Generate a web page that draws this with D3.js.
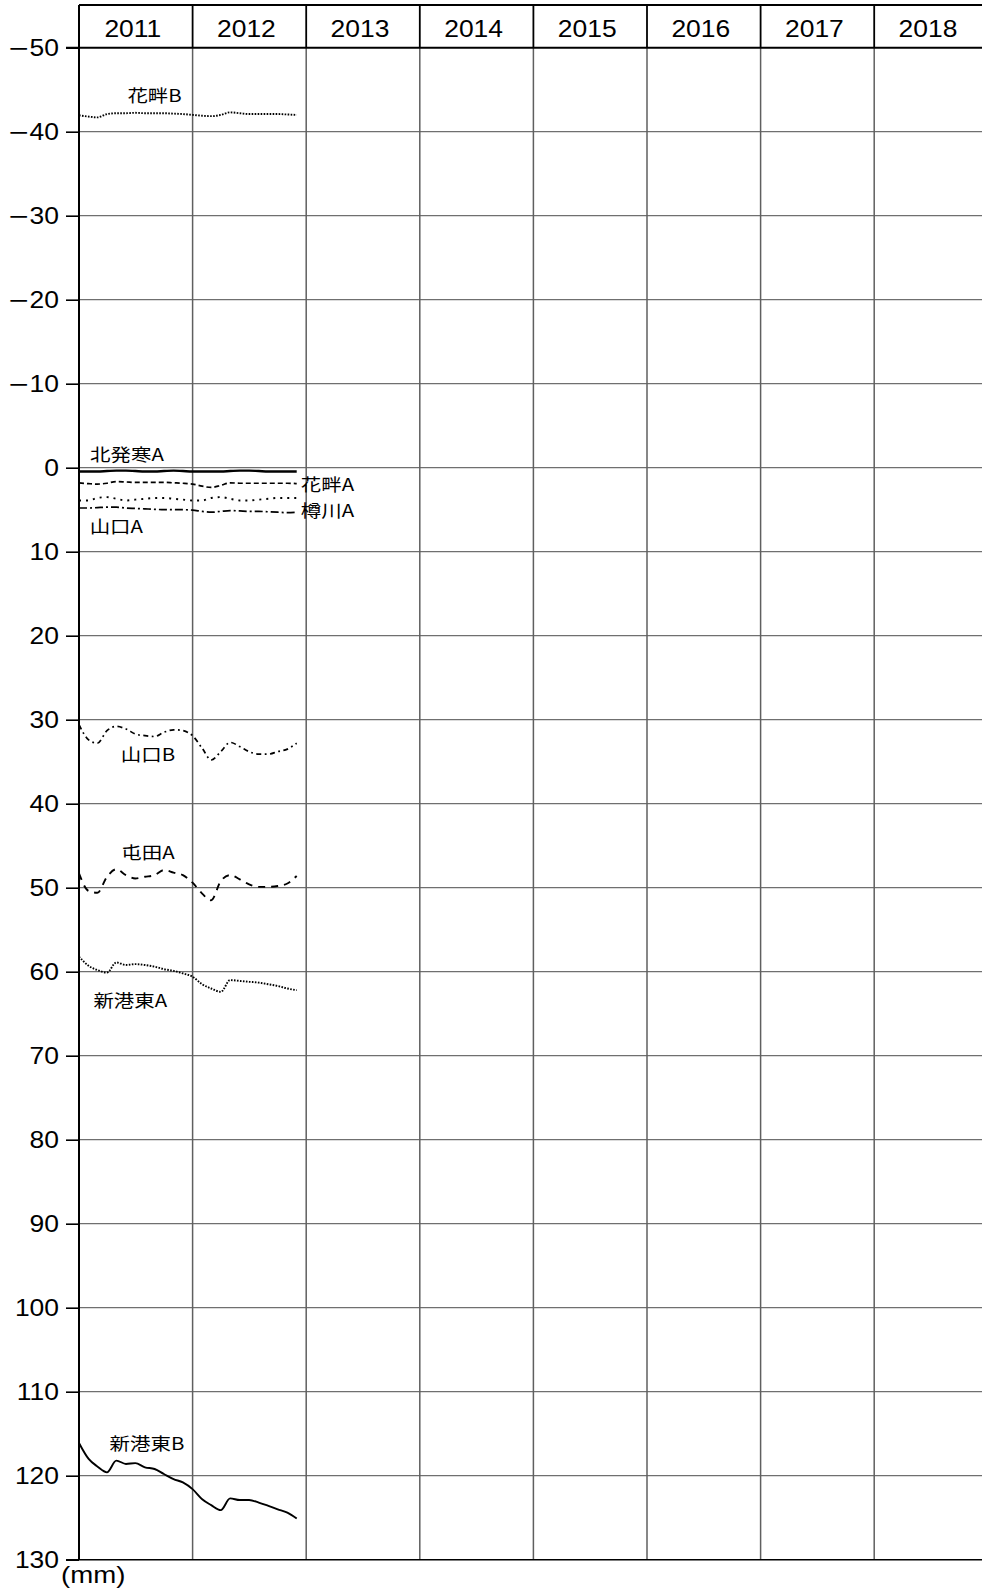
<!DOCTYPE html>
<html>
<head>
<meta charset="utf-8">
<script src="https://cdn.jsdelivr.net/npm/d3@7"></script>
<style>
html,body{margin:0;padding:0;background:#fff;}
svg{display:block;}
</style>
</head>
<body>
<svg id="chart" width="982" height="1588"></svg>
<script>
// ---------- data ----------
const years = ["2011","2012","2013","2014","2015","2016","2017","2018"];
const yTickValues = [-50,-40,-30,-20,-10,0,10,20,30,40,50,60,70,80,90,100,110,120,130];
const months = ["2011-01","2011-02","2011-03","2011-04","2011-05","2011-06","2011-07","2011-08","2011-09","2011-10","2011-11","2011-12",
                "2012-01","2012-02","2012-03","2012-04","2012-05","2012-06","2012-07","2012-08","2012-09","2012-10","2012-11","2012-12"];
const seriesNames = ["花畔B","北発寒A","花畔A","樽川A","山口A","山口B","屯田A","新港東A","新港東B"];
const hanaguroB = [-41.95,-41.8,-41.7,-42.1,-42.2,-42.2,-42.25,-42.2,-42.2,-42.2,-42.15,-42.1,-42.0,-41.9,-41.85,-42.0,-42.3,-42.2,-42.1,-42.1,-42.1,-42.1,-42.05,-42.0];
const kitahassamuA = [0.45,0.45,0.45,0.4,0.35,0.35,0.4,0.45,0.45,0.4,0.35,0.4,0.45,0.45,0.45,0.45,0.4,0.35,0.35,0.4,0.45,0.45,0.45,0.45];
const hanaguroA = [1.8,1.9,1.95,1.85,1.65,1.7,1.75,1.75,1.75,1.75,1.8,1.85,1.95,2.2,2.35,2.1,1.8,1.85,1.85,1.85,1.85,1.85,1.85,1.9];
const tarukawaA = [3.9,3.9,3.6,3.5,3.7,3.9,3.8,3.7,3.6,3.6,3.7,3.8,3.9,3.9,3.6,3.5,3.7,3.9,3.9,3.8,3.7,3.6,3.6,3.6];
const yamaguchiA = [4.8,4.8,4.75,4.7,4.7,4.8,4.85,4.9,4.95,5.0,5.0,5.0,5.05,5.2,5.3,5.2,5.1,5.15,5.2,5.2,5.25,5.3,5.35,5.3];
const yamaguchiB = [30.6,32.4,32.8,31.3,30.8,31.1,31.7,31.9,32.0,31.5,31.2,31.3,31.9,33.4,34.8,33.8,32.7,33.2,33.8,34.1,34.1,33.8,33.5,32.8];
const tondenA = [48.3,50.4,50.6,48.7,47.8,48.5,48.9,48.7,48.5,47.9,48.2,48.5,49.4,50.7,51.5,49.2,48.5,49.0,49.6,49.9,49.9,49.8,49.5,48.6];
const shinkohigashiA = [58.2,59.3,59.8,60.1,58.9,59.2,59.1,59.2,59.4,59.7,59.9,60.2,60.6,61.5,62.0,62.4,61.0,61.1,61.2,61.3,61.5,61.7,62.0,62.2];
const shinkohigashiB = [116.1,118.0,118.9,119.6,118.2,118.6,118.5,119.0,119.2,119.8,120.4,120.8,121.6,122.8,123.5,124.1,122.7,122.9,122.9,123.2,123.6,124.0,124.4,125.1];
const unitLabel = "(mm)";

// ---------- layout / styles ----------
const W = 982, H = 1588;
const left = 79, colW = 113.6, topY = 5, y0 = 47.7, y1 = 1559.7;
const parse = d3.timeParse("%Y-%m");
const x = d3.scaleTime().domain([parse("2011-01"), parse("2019-01")]).range([left, left + 8*colW]);
const xBand = d3.scaleBand().domain(years).range([left, left + 8*colW]);
const y = d3.scaleLinear().domain([-50, 130]).range([y0, y1]);
const SX = 1.15;
const NUMFONT = "'Liberation Sans', Arial, sans-serif";

const styles = [
  {data: hanaguroB, dash: "1.6,1.4", w: 1.9},
  {data: kitahassamuA, dash: null, w: 2.4},
  {data: hanaguroA, dash: "5,3", w: 1.7},
  {data: tarukawaA, dash: "2,5", w: 1.9},
  {data: yamaguchiA, dash: "8,3,2,3", w: 1.7},
  {data: yamaguchiB, dash: "5,3.5,1.8,3.5", w: 1.7},
  {data: tondenA, dash: "7,6", w: 1.9},
  {data: shinkohigashiA, dash: "1.6,1.4", w: 1.9},
  {data: shinkohigashiB, dash: null, w: 1.9}
];
// label anchor positions (in data units) and anchor
const labelLayout = [
  {t: "2011-09", v: -43.5, a: "middle"},
  {t: "2011-06", v: -0.8, a: "middle", dx: 1},
  {t: "2012-12", v: 2.75, a: "start", dx: 4},
  {t: "2012-12", v: 5.9, a: "start", dx: 4},
  {t: "2011-05", v: 7.75, a: "middle", dx: 0},
  {t: "2011-08", v: 34.9, a: "middle", dx: 3},
  {t: "2011-08", v: 46.6, a: "middle", dx: 3},
  {t: "2011-07", v: 64.2, a: "middle", dx: -5},
  {t: "2011-08", v: 116.9, a: "middle", dx: 2}
];

const svg = d3.select("#chart");
svg.append("rect").attr("width", W).attr("height", H).attr("fill", "#fff");

// horizontal grid
svg.append("g").selectAll("line").data(yTickValues.filter(d => d !== -50 && d !== 130)).join("line")
  .attr("x1", left).attr("x2", W).attr("y1", d => y(d)).attr("y2", d => y(d))
  .attr("stroke", "#6f6f6f").attr("stroke-width", 1.3);

// vertical grid (below header gray, header black)
const colEdges = years.slice(1);
svg.append("g").selectAll("line").data(colEdges).join("line")
  .attr("x1", d => xBand(d)).attr("x2", d => xBand(d)).attr("y1", y0).attr("y2", y1)
  .attr("stroke", "#5f5f5f").attr("stroke-width", 1.5);
svg.append("g").selectAll("line").data(colEdges).join("line")
  .attr("x1", d => xBand(d)).attr("x2", d => xBand(d)).attr("y1", topY).attr("y2", y0)
  .attr("stroke", "#000").attr("stroke-width", 1.8);

// top border, header bottom, bottom line
svg.append("line").attr("x1", left).attr("x2", W).attr("y1", topY).attr("y2", topY).attr("stroke", "#000").attr("stroke-width", 2);
svg.append("line").attr("x1", 66).attr("x2", W).attr("y1", y(-50)).attr("y2", y(-50)).attr("stroke", "#000").attr("stroke-width", 2);
svg.append("line").attr("x1", 66).attr("x2", W).attr("y1", y(130)).attr("y2", y(130)).attr("stroke", "#000").attr("stroke-width", 1.5);

// left axis with ticks
const axis = svg.append("g").attr("transform", `translate(${left},0)`)
  .call(d3.axisLeft(y).tickValues(yTickValues).tickSize(13).tickSizeOuter(0).tickFormat(d => String(Math.abs(d))));
axis.select(".domain").attr("stroke", "#000").attr("stroke-width", 2).attr("d", `M0,${topY}V${y1}`);
axis.selectAll(".tick line").attr("stroke", "#000").attr("stroke-width", 1.6);
axis.selectAll(".tick text").each(function(d) {
  const t = d3.select(this);
  const digits = t.text();
  t.attr("x", null).attr("dy", null).text(null)
   .attr("transform", `translate(-20,8.2) scale(${SX},1)`)
   .attr("text-anchor", "end")
   .attr("font-family", NUMFONT)
   .attr("font-size", 23).attr("fill", "#000");
  if (d < 0) t.append("tspan").attr("font-family", "'DejaVu Sans', sans-serif").text("\u2212");
  t.append("tspan").text(digits);
});

// header year labels
svg.append("g").selectAll("text").data(years).join("text")
  .attr("transform", d => `translate(${xBand(d) + xBand.bandwidth()/2 - 3},37) scale(${SX},1)`)
  .attr("text-anchor", "middle")
  .attr("font-family", NUMFONT)
  .attr("font-size", 23).attr("fill", "#000")
  .text(d => d);

// series lines
const line = d3.line()
  .x((d, i) => x(parse(months[i])))
  .y(d => y(d))
  .curve(d3.curveMonotoneX);
svg.append("g").selectAll("path").data(styles).join("path")
  .attr("d", s => line(s.data))
  .attr("fill", "none").attr("stroke", "#000")
  .attr("stroke-width", s => s.w)
  .attr("stroke-dasharray", s => s.dash);

// series labels
svg.append("g").selectAll("text").data(seriesNames).join("text")
  .attr("transform", (d, i) => {
    const L = labelLayout[i];
    return `translate(${x(parse(L.t)) + (L.dx || 0)},${y(L.v)}) scale(1.17,1)`;
  })
  .attr("text-anchor", (d, i) => labelLayout[i].a)
  .attr("font-family", "'Noto Sans CJK JP', 'Liberation Sans', sans-serif")
  .attr("font-size", 17.5).attr("fill", "#000")
  .text(d => d);

// unit label
svg.append("text")
  .attr("transform", `translate(61,1583) scale(1.2,1)`)
  .attr("font-family", NUMFONT)
  .attr("font-size", 23).attr("fill", "#000")
  .text(unitLabel);
</script>
</body>
</html>
